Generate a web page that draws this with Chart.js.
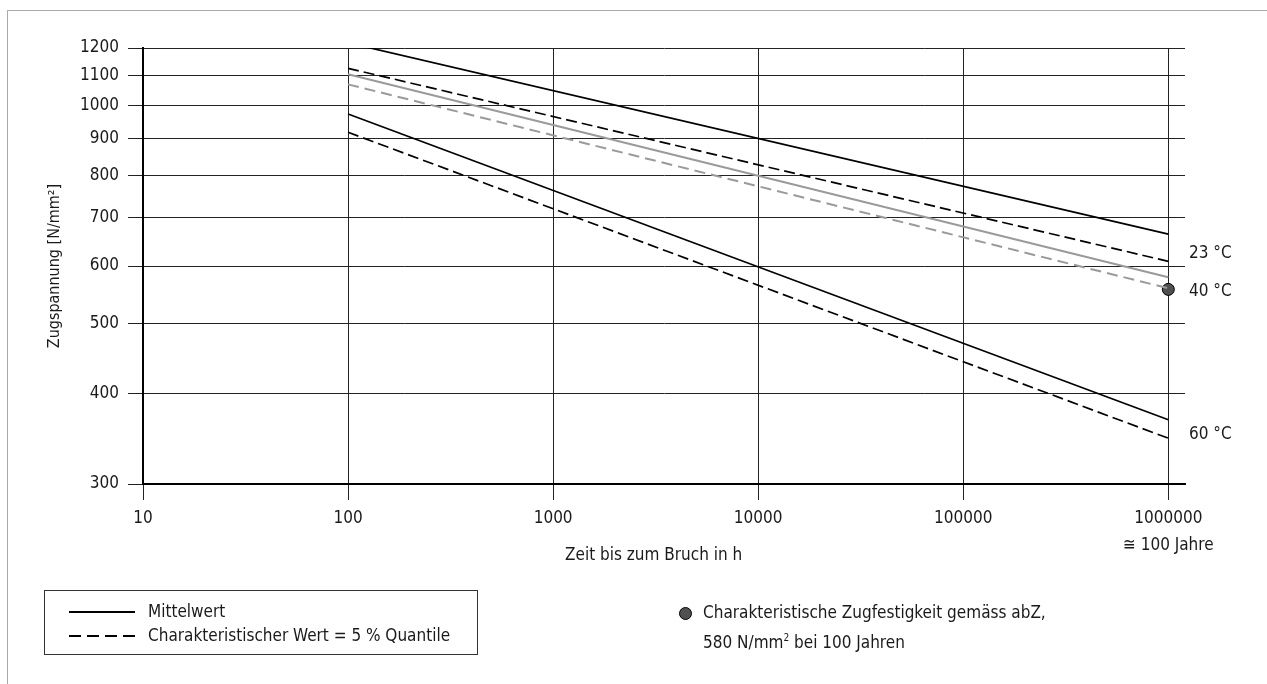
<!DOCTYPE html>
<html>
<head>
<meta charset="utf-8">
<script src="https://cdn.jsdelivr.net/npm/chart.js@4.4.0/dist/chart.umd.min.js"></script>
<style>
  body { margin: 0; background: #fff; }
  #wrap { position: relative; width: 1267px; height: 684px; overflow: hidden;
          font-family: "DejaVu Sans Condensed", "Liberation Sans Narrow", sans-serif; color: #1a1a1a; }
  #frame { position: absolute; left: 7px; top: 10px; right: -2px; bottom: -2px;
           border-left: 1px solid #aaa; border-top: 1px solid #aaa; }
  canvas { position: absolute; left: 0; top: 0; }
  .lbl { position: absolute; font-size: 17px; line-height: 20px; white-space: nowrap; }
  .legend { position: absolute; left: 44px; top: 590px; width: 432px; height: 63px; border: 1px solid #333; }
  .sample { position: absolute; left: 24px; width: 66px; height: 1.5px; }
  .solid { background: #000; }
  .dashed { background: repeating-linear-gradient(to right, #000 0 12px, transparent 12px 18px); }
  .sup { font-size: 10px; vertical-align: 7px; }
  .dot { position: absolute; left: 679px; top: 607px; width: 11px; height: 11px; border-radius: 50%;
         background: #505050; border: 1px solid #000; }
</style>
</head>
<body>
<div id="wrap">
  <div id="frame"></div>
  <canvas id="creepChart" width="1267" height="684"></canvas>

  <div class="lbl" style="left:565px; top:544px;">Zeit bis zum Bruch in h</div>

  <div class="lbl" style="left:1189px; top:242px;">23 °C</div>
  <div class="lbl" style="left:1189px; top:280px;">40 °C</div>
  <div class="lbl" style="left:1189px; top:423px;">60 °C</div>

  <div class="legend">
    <div class="sample solid" style="top:20px;"></div>
    <div class="lbl" style="left:103px; top:10px;">Mittelwert</div>
    <div class="sample dashed" style="top:44px;"></div>
    <div class="lbl" style="left:103px; top:34px;">Charakteristischer Wert = 5 % Quantile</div>
  </div>

  <div class="dot"></div>
  <div class="lbl" style="left:703px; top:602px;">Charakteristische Zugfestigkeit gemäss abZ,</div>
  <div class="lbl" style="left:703px; top:628px;">580 N/mm<span class="sup">2</span> bei 100 Jahren</div>
</div>

<script>
// ===========================
// Data
// ===========================
const hours = [100, 1000000];
const xTicks = [10, 100, 1000, 10000, 100000, 1000000];
const yTicks = [300, 400, 500, 600, 700, 800, 900, 1000, 1100, 1200];

// Zugspannung [N/mm2] at 100 h and 1 000 000 h
const mean23 = [1220, 664];
const char23 = [1125, 609];
const mean40 = [1104, 579];
const char40 = [1069, 559];
const mean60 = [973, 368];
const char60 = [918, 347];

const charStrengthHours = [1000000];
const charStrength = [557];

const toPoints = (xs, ys) => xs.map((x, i) => ({ x: x, y: ys[i] }));

const fontFamily = '"DejaVu Sans Condensed", "Liberation Sans Narrow", sans-serif';

function lineSet(label, values, color, width, dash) {
    return {
        label: label,
        data: toPoints(hours, values),
        borderColor: color,
        borderWidth: width,
        borderDash: dash,
        pointRadius: 0,
        fill: false,
        tension: 0
    };
}

// ===========================
// Chart
// ===========================
const ctx = document.getElementById('creepChart').getContext('2d');
const creepChart = new Chart(ctx, {
    type: 'line',
    data: {
        datasets: [
            lineSet('23 °C Mittelwert', mean23, '#000', 1.7, []),
            lineSet('23 °C 5 % Quantile', char23, '#000', 1.7, [11, 5]),
            lineSet('40 °C Mittelwert', mean40, '#9a9a9a', 2, []),
            lineSet('40 °C 5 % Quantile', char40, '#9a9a9a', 2, [11, 6]),
            lineSet('60 °C Mittelwert', mean60, '#000', 1.7, []),
            lineSet('60 °C 5 % Quantile', char60, '#000', 1.7, [11, 5]),
            {
                type: 'scatter',
                label: 'Charakteristische Zugfestigkeit',
                data: toPoints(charStrengthHours, charStrength),
                pointRadius: 6,
                pointBackgroundColor: '#505050',
                pointBorderColor: '#000',
                pointBorderWidth: 1,
                clip: false
            }
        ]
    },
    options: {
        responsive: false,
        animation: false,
        layout: { padding: { top: 48, right: 82, left: 0, bottom: 0 } },
        plugins: {
            legend: { display: false },
            tooltip: { enabled: false }
        },
        scales: {
            x: {
                type: 'logarithmic',
                min: 10,
                max: 1206000,
                afterBuildTicks: (scale) => { scale.ticks = xTicks.map(v => ({ value: v })); },
                afterFit: (scale) => { scale.height = 200; },
                ticks: {
                    autoSkip: false,
                    maxRotation: 0,
                    color: '#1a1a1a',
                    padding: 5,
                    font: { family: fontFamily, size: 17, lineHeight: 1.6 },
                    callback: (v) => v === 1000000 ? ['1000000', '≅ 100 Jahre'] : String(v)
                },
                grid: { color: '#222', lineWidth: 1, tickLength: 16 },
                border: { color: '#000', width: 2 }
            },
            y: {
                type: 'logarithmic',
                min: 300,
                max: 1200,
                afterBuildTicks: (scale) => { scale.ticks = yTicks.map(v => ({ value: v })); },
                afterFit: (scale) => { scale.width = 143; },
                ticks: {
                    autoSkip: false,
                    color: '#1a1a1a',
                    padding: 9,
                    font: { family: fontFamily, size: 17 },
                    callback: (v) => String(v)
                },
                title: {
                    display: true,
                    text: 'Zugspannung [N/mm²]',
                    color: '#1a1a1a',
                    padding: { top: 45, bottom: 0 },
                    font: { family: fontFamily, size: 16 }
                },
                grid: { color: '#222', lineWidth: 1, tickLength: 15 },
                border: { color: '#000', width: 2 }
            }
        }
    }
});
</script>
</body>
</html>
